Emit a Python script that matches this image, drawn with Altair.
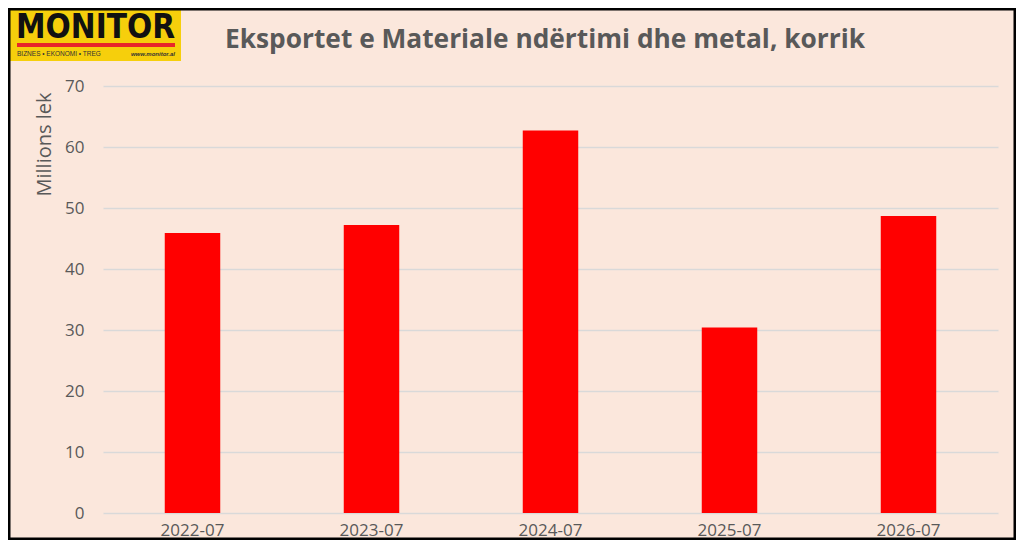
import altair as alt
import pandas as pd

# ---- data ----
periods = ["2022-07", "2023-07", "2024-07", "2025-07", "2026-07"]
values = [45.9, 47.2, 62.7, 30.4, 48.7]
y_ticks = [0, 10, 20, 30, 40, 50, 60, 70]
title_text = ["Eksportet e Materiale ndërtimi dhe metal, korrik"]
y_title = "Millions lek"
logo_word = ["MONITOR"]
logo_tag = ["BIZNES  •  EKONOMI  •  TREG"]
logo_url = ["www.monitor.al"]

df = pd.DataFrame({"period": periods, "value": values})

BG = "#FBE7DC"
TXT = "#595959"
FONT = "Open Sans"

bars = alt.Chart(df).mark_bar(color="#FF0000").encode(
    x=alt.X(
        "period:N",
        sort=periods,
        scale=alt.Scale(paddingInner=0.69, paddingOuter=0.345),
        axis=alt.Axis(
            title=None, labelAngle=0, ticks=False, domain=False, grid=False,
            labelFontSize=17, labelColor=TXT, labelFont=FONT, labelPadding=9,
        ),
    ),
    y=alt.Y(
        "value:Q",
        scale=alt.Scale(domain=[0, 70], nice=False),
        axis=alt.Axis(
            values=y_ticks, title=y_title, ticks=False, tickSize=0, domain=False,
            grid=True, gridColor="#D9D9D9", gridWidth=1.5,
            labelFontSize=17, labelColor=TXT, labelFont=FONT, labelPadding=19,
            titleFontSize=20, titleColor=TXT, titleFont=FONT, titleFontWeight="normal",
            titleAngle=270, titleAlign="right", titleBaseline="middle",
            titleX=-59, titleY=6,
        ),
    ),
)

one = pd.DataFrame({"k": [0]})

logo_box = alt.Chart(one).mark_rect(color="#F6CF0C").encode(
    x=alt.value(-93), x2=alt.value(78), y=alt.value(-84), y2=alt.value(-25)
)
logo_line = alt.Chart(one).mark_rect(color="#E8262A").encode(
    x=alt.value(-86), x2=alt.value(72), y=alt.value(-43), y2=alt.value(-39)
)
logo_text = alt.Chart(pd.DataFrame({"t": logo_word})).mark_text(
    align="left", baseline="alphabetic", font="DejaVu Sans Condensed", fontWeight="bold",
    fontSize=33, color="#111111"
).encode(x=alt.value(-87), y=alt.value(-48), text="t:N")
logo_tag_t = alt.Chart(pd.DataFrame({"t": logo_tag})).mark_text(
    align="left", baseline="alphabetic", font="Liberation Sans",
    fontSize=6.5, color="#333333"
).encode(x=alt.value(-86), y=alt.value(-30.5), text="t:N")
logo_url_t = alt.Chart(pd.DataFrame({"t": logo_url})).mark_text(
    align="right", baseline="alphabetic", font="Liberation Sans", fontStyle="italic",
    fontWeight="bold", fontSize=6, color="#333333"
).encode(x=alt.value(72), y=alt.value(-30.5), text="t:N")

title = alt.Chart(pd.DataFrame({"t": title_text})).mark_text(
    align="center", baseline="alphabetic", font=FONT, fontWeight="bold",
    fontSize=26.3, color=TXT
).encode(x=alt.value(442), y=alt.value(-38), text="t:N")

frame = alt.Chart(one).mark_rect(fillOpacity=0, stroke="black", strokeWidth=2.5).encode(
    x=alt.value(-93.75), x2=alt.value(911.75), y=alt.value(-76.75), y2=alt.value(452.75)
)

chart = alt.layer(
    bars, logo_box, logo_line, logo_text, logo_tag_t, logo_url_t, title, frame
).properties(
    width=895, height=427, autosize="none",
    padding={"left": 95, "top": 78, "right": 18, "bottom": 27},
    background=BG,
).configure_view(stroke=None)

chart.save("out.html", embed_options={"renderer": "svg", "actions": False})
